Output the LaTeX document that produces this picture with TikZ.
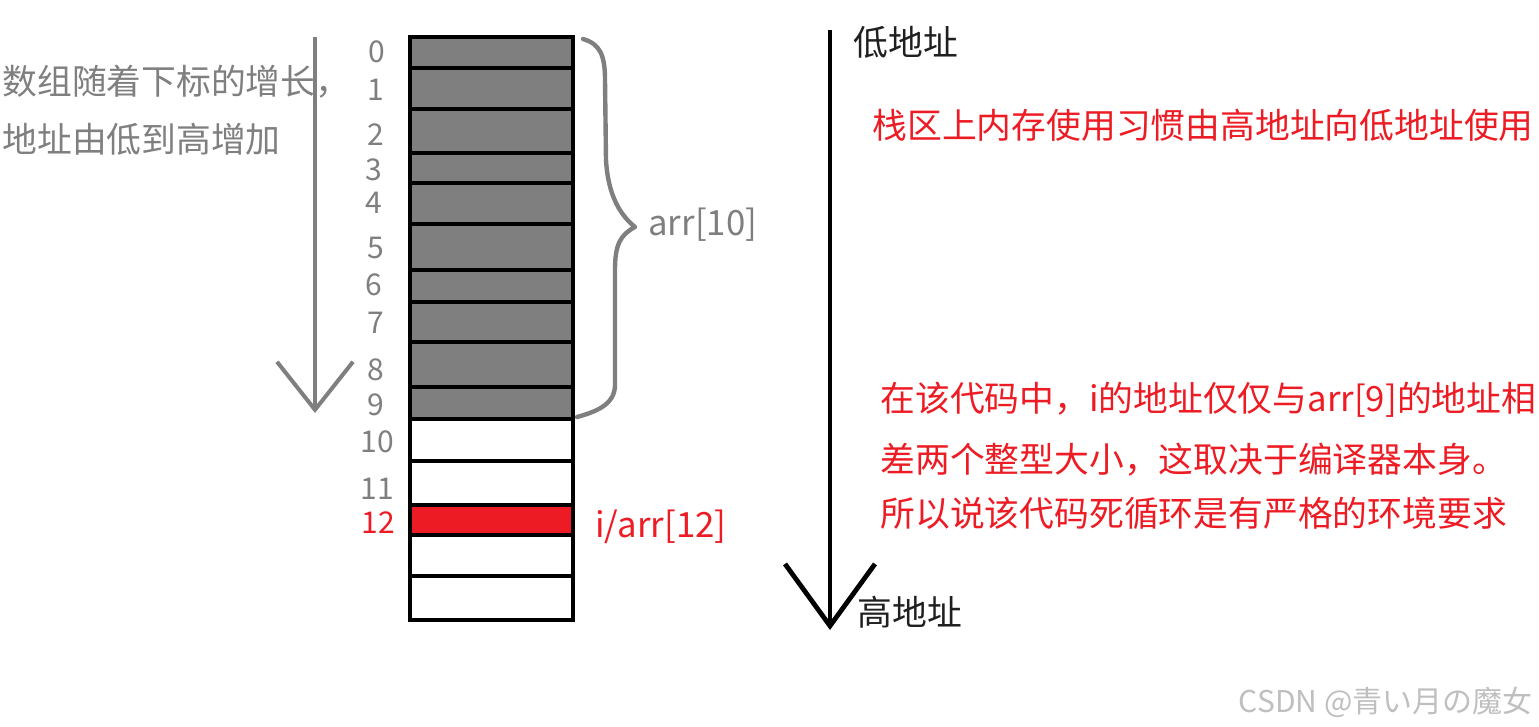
\documentclass[tikz,border=0pt]{standalone}
\usepackage{fontspec}
\setmainfont{Noto Sans CJK SC}
\usepackage{xcolor}
\usepackage{tikz}
\usetikzlibrary{arrows.meta}
\definecolor{memgray}{HTML}{7F7F7F}
\definecolor{memred}{HTML}{ED1C24}

\begin{document}
\begin{tikzpicture}[x=0.5pt,y=-0.5pt,cell/.style={draw,line width=2pt,inner sep=0pt,outer sep=0pt,minimum width=81.5pt},used/.style={cell,fill=memgray},free/.style={cell,fill=white},hit/.style={cell,fill=memred},idx/.style={text=memgray,inner sep=0pt,font=\fontsize{15}{18}\selectfont},note/.style={anchor=west,inner sep=0pt,font=\fontsize{17.4}{20}\selectfont}]
\useasboundingbox (0,0) rectangle (1539,727);
% memory cells
\node[used,minimum height=15.5pt] (c0) at (491.5,52.5) {};
\node[used,minimum height=20.5pt] (c1) at (491.5,88.5) {};
\node[used,minimum height=22pt] (c2) at (491.5,131) {};
\node[used,minimum height=15pt] (c3) at (491.5,168) {};
\node[used,minimum height=20.5pt] (c4) at (491.5,203.5) {};
\node[used,minimum height=23pt] (c5) at (491.5,247) {};
\node[used,minimum height=16pt] (c6) at (491.5,286) {};
\node[used,minimum height=20pt] (c7) at (491.5,322) {};
\node[used,minimum height=22.5pt] (c8) at (491.5,364.5) {};
\node[used,minimum height=16pt] (c9) at (491.5,403) {};
\node[free,minimum height=21pt] (c10) at (491.5,440) {};
\node[free,minimum height=22pt] (c11) at (491.5,483) {};
\node[hit,minimum height=15pt] (c12) at (491.5,520) {};
\node[free,minimum height=20.5pt] (c13) at (491.5,555.5) {};
\node[free,minimum height=22pt] (c14) at (491.5,598) {};
% indices
\node[idx] (i0) at (377,52) {0};
\node[idx] (i1) at (376,90) {1};
\node[idx] (i2) at (376,135) {2};
\node[idx] (i3) at (374,170) {3};
\node[idx] (i4) at (374,203) {4};
\node[idx] (i5) at (376,248) {5};
\node[idx] (i6) at (374,285) {6};
\node[idx] (i7) at (376,323) {7};
\node[idx] (i8) at (376,370) {8};
\node[idx] (i9) at (376,405) {9};
\node[idx] (i10) at (377,442) {10};
\node[idx] (i11) at (377,489) {11};
\node[idx,text=memred] (i12) at (378,523) {12};
% brace over arr[10]
\coordinate (brTop) at (583,39);
\coordinate (brTip) at (635,227);
\coordinate (brBot) at (577,417);
\draw[memgray,line width=2.2pt,line join=round,line cap=round] (brTop) .. controls (600,44) and (605,55) .. (605,80) -- (606,160) .. controls (608,195) and (620,215) .. (brTip) .. controls (620,235) and (615,245) .. (615,270) -- (615,385) .. controls (615,405) and (595,412) .. (brBot);
\node[note,text=memgray] (arr) at (648,225) {arr[10]};
\node[note,text=memred] (ivar) at (595,527) {i/arr[12]};
% index direction
\node[note,text=memgray] (grow1) at (2,82) {数组随着下标的增长，};
\node[note,text=memgray] (grow2) at (2,139) {地址由低到高增加};
\coordinate (gTop) at (315,37);
\coordinate (gEnd) at (315,413);
\draw[memgray,line width=2pt,-{Straight Barb[length=24pt,width=38pt]}] (gTop) -- (gEnd);
% address direction
\coordinate (aTop) at (830,30);
\coordinate (aEnd) at (830,630);
\draw[line width=2.4pt,-{Straight Barb[length=31pt,width=45pt]}] (aTop) -- (aEnd);
\node[note,text=black!88] (low) at (853,42) {低地址};
\node[note,text=black!88] (high) at (857,612) {高地址};
% remarks
\node[note,text=memred] (stack) at (872,125) {栈区上内存使用习惯由高地址向低地址使用};
\node[note,text=memred] (r1) at (880,400) {在该代码中，i的地址仅仅与arr[9]的地址相};
\node[note,text=memred] (r2) at (880,460) {差两个整型大小，这取决于编译器本身。};
\node[note,text=memred] (r3) at (880,513) {所以说该代码死循环是有严格的环境要求};
\node[anchor=east,inner sep=0pt,text=black!25,font=\fontsize{15}{18}\selectfont] (mark) at (1533,702) {CSDN @青い月の魔女};
\end{tikzpicture}
\end{document}
